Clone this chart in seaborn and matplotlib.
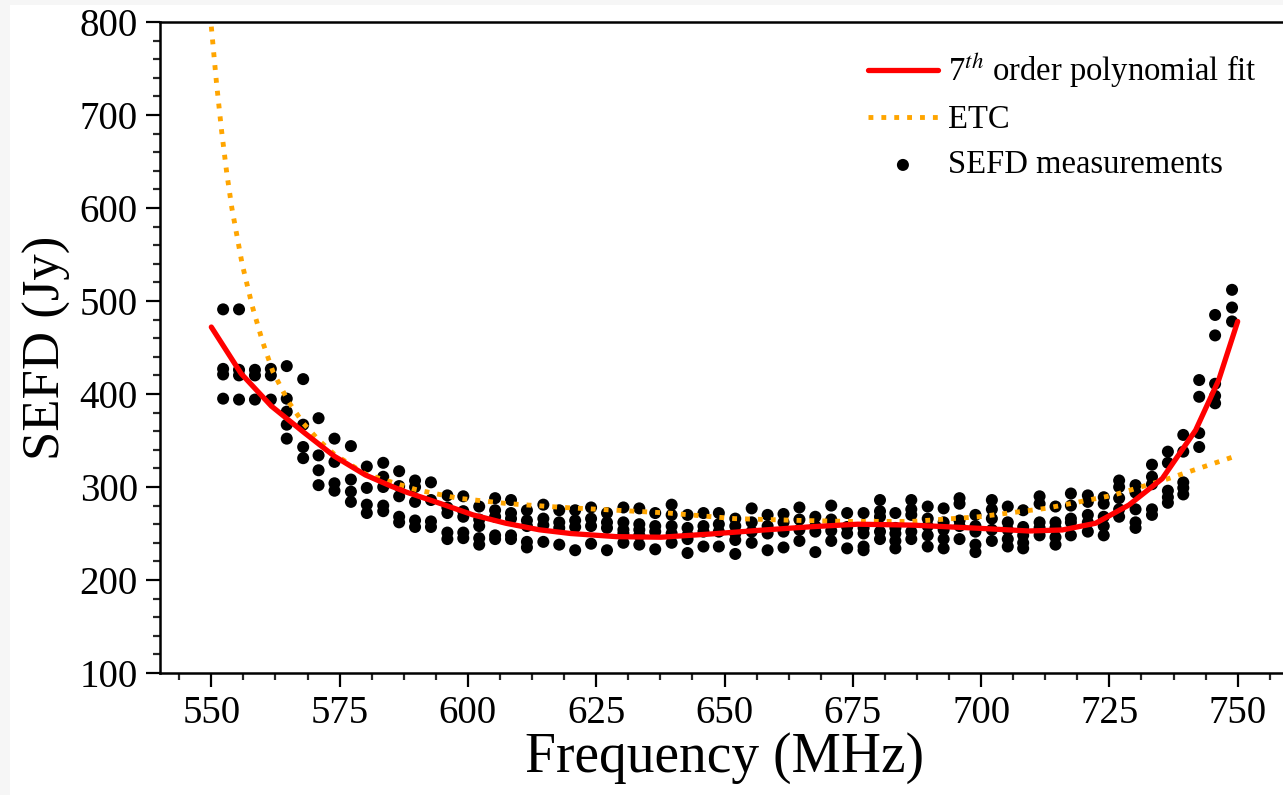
import numpy as np
import pandas as pd
import matplotlib
matplotlib.use("Agg")
import matplotlib.pyplot as plt
from matplotlib.ticker import MultipleLocator
from matplotlib.patches import Rectangle
import seaborn as sns

# frequences des mesures (MHz)
freq_mhz = [552.3, 555.4, 558.5, 561.6, 564.7, 567.9, 570.9, 574.0, 577.2, 580.3,
            583.5, 586.6, 589.7, 592.8, 596.0, 599.1, 602.2, 605.3, 608.4, 611.5,
            614.7, 617.8, 620.9, 624.0, 627.1, 630.3, 633.4, 636.5, 639.7, 642.8,
            645.9, 648.9, 652.1, 655.3, 658.4, 661.5, 664.6, 667.7, 670.8, 673.9,
            677.1, 680.3, 683.3, 686.4, 689.6, 692.7, 695.8, 698.9, 702.1, 705.2,
            708.2, 711.4, 714.5, 717.5, 720.8, 723.9, 726.9, 730.1, 733.3, 736.4,
            739.4, 742.5, 745.6, 748.9]

# SEFD mesurees pour chaque frequence (Jy)
sefd_jy = [
    [491, 427, 421, 395], [491, 426, 420, 394], [426, 420, 394], [427, 420, 394],
    [430, 395, 381, 367, 352], [416, 367, 343, 331], [374, 334, 318, 302], [352, 327, 304, 296],
    [344, 308, 295, 284], [322, 299, 281, 272], [326, 311, 300, 280, 274], [317, 301, 290, 268, 262],
    [307, 300, 284, 264, 257], [305, 286, 263, 257], [291, 278, 272, 251, 244], [290, 274, 268, 251, 245],
    [279, 265, 258, 245, 238], [288, 275, 268, 248, 244], [286, 272, 266, 248, 244], [275, 264, 258, 241, 235],
    [281, 266, 259, 241], [275, 262, 256, 238], [275, 264, 257, 232], [278, 266, 258, 239],
    [272, 262, 256, 232], [278, 262, 254, 250, 240], [277, 260, 254, 248, 238], [272, 258, 252, 233],
    [281, 270, 258, 250, 240], [270, 256, 248, 244, 229], [272, 258, 252, 236], [272, 260, 252, 236],
    [266, 258, 250, 243, 228], [277, 262, 252, 240], [270, 258, 250, 232], [271, 262, 252, 235],
    [278, 265, 254, 242], [268, 258, 252, 230], [280, 265, 253, 242], [272, 257, 250, 234],
    [272, 256, 250, 236, 232], [286, 274, 268, 252, 244], [272, 256, 250, 242, 234], [286, 276, 270, 252, 244],
    [279, 266, 258, 248, 236], [277, 262, 254, 244, 234], [288, 282, 264, 258, 244], [270, 258, 252, 238, 230],
    [286, 276, 266, 254, 242], [279, 262, 254, 244, 236], [275, 257, 248, 240, 234], [290, 282, 262, 256, 248],
    [279, 262, 256, 246, 238], [293, 280, 266, 262, 248], [291, 284, 270, 262, 252], [289, 282, 268, 258, 248],
    [307, 300, 288, 276, 268], [302, 294, 276, 262, 256], [324, 311, 303, 276, 270], [338, 326, 296, 289, 283],
    [356, 338, 305, 299, 292], [415, 397, 358, 343], [485, 463, 411, 398, 390], [512, 493, 478],
]

# ajustement polynomial d'ordre 7
fit_freq = [550, 555.8, 561.7, 568.2, 574, 580, 585, 588, 594.5, 601, 607.4, 613.9, 620, 629,
            637.6, 647.4, 657.7, 667, 676, 686.6, 699.6, 709.3, 715.8, 722.3, 728.8, 735.3,
            741.8, 746.3, 750]
fit_sefd = [472, 422, 387, 358, 333, 313, 301, 294.5, 282.5, 270, 261, 254, 250, 246.6,
            246, 249.5, 253.8, 257.3, 260, 259, 255.6, 252.7, 253.8, 261, 280.6, 309,
            361, 415, 478]

# courbe ETC
etc_freq = [550, 551, 552, 553, 554, 556, 558, 560, 562, 565, 568, 571, 574, 580, 590,
            598, 608, 618.6, 629, 639, 652, 665, 674, 686.6, 699.6, 712.6, 725.6, 735.4, 750]
etc_sefd = [795, 735, 683, 638, 600, 540, 494, 456, 424, 392, 368, 350, 335, 314, 297,
            288, 282, 278, 275, 272, 266, 264, 263, 263, 268, 277, 291, 307, 334]

meas = pd.DataFrame([(f, v) for f, vals in zip(freq_mhz, sefd_jy) for v in vals],
                    columns=["freq", "sefd"])
fit = pd.DataFrame({"freq": fit_freq, "sefd": fit_sefd})
etc = pd.DataFrame({"freq": etc_freq, "sefd": etc_sefd})

sns.set_theme(style="ticks")
plt.rcParams["font.family"] = ["Liberation Serif", "DejaVu Serif"]
plt.rcParams["mathtext.fontset"] = "stix"
plt.rcParams["text.color"] = "black"
plt.rcParams["axes.labelcolor"] = "black"

fig = plt.figure(figsize=(12.83, 7.95), dpi=100)
fig.patch.set_facecolor("#f6f6f6")
fig.patches.append(Rectangle((10 / 1283, 0), 1, 1 - 5 / 795, transform=fig.transFigure,
                             facecolor="white", edgecolor="none", zorder=-10))
ax = fig.add_axes([160 / 1283, 122 / 795, 1129 / 1283, 651 / 795])

sns.scatterplot(data=meas, x="freq", y="sefd", ax=ax, color="black", s=75,
                edgecolor="none", label="SEFD measurements", zorder=2)
sns.lineplot(data=etc, x="freq", y="sefd", ax=ax, color="orange", lw=3.5,
             linestyle=":", label="ETC", zorder=3, sort=False)
sns.lineplot(data=fit, x="freq", y="sefd", ax=ax, color="red", lw=3.8,
             label=r"7$^{th}$ order polynomial fit", zorder=4, sort=False)

ax.set_xlim(540, 760)
ax.set_ylim(100, 800)
ax.xaxis.set_major_locator(MultipleLocator(25))
ax.xaxis.set_minor_locator(MultipleLocator(6.25))
ax.yaxis.set_major_locator(MultipleLocator(100))
ax.yaxis.set_minor_locator(MultipleLocator(20))
ax.tick_params(which="major", direction="out", length=10, width=1.6, labelsize=28,
               colors="black", pad=6)
ax.tick_params(which="minor", direction="out", length=5, width=1.6)
for side in ["left", "bottom", "top", "right"]:
    ax.spines[side].set_linewidth(1.8)
    ax.spines[side].set_color("black")
ax.set_xlabel("Frequency (MHz)", fontsize=40, labelpad=0)
ax.set_ylabel("SEFD (Jy)", fontsize=38, labelpad=6)

handles, labels = ax.get_legend_handles_labels()
order = [2, 1, 0]
ax.legend([handles[i] for i in order], [labels[i] for i in order],
          loc="upper right", bbox_to_anchor=(1273 / 1283, 1 - 34 / 795),
          bbox_transform=fig.transFigure, frameon=False, fontsize=23.5,
          handlelength=2.15, labelspacing=0.45, handletextpad=0.3, borderpad=0)

fig.savefig("out.png", dpi=100)
